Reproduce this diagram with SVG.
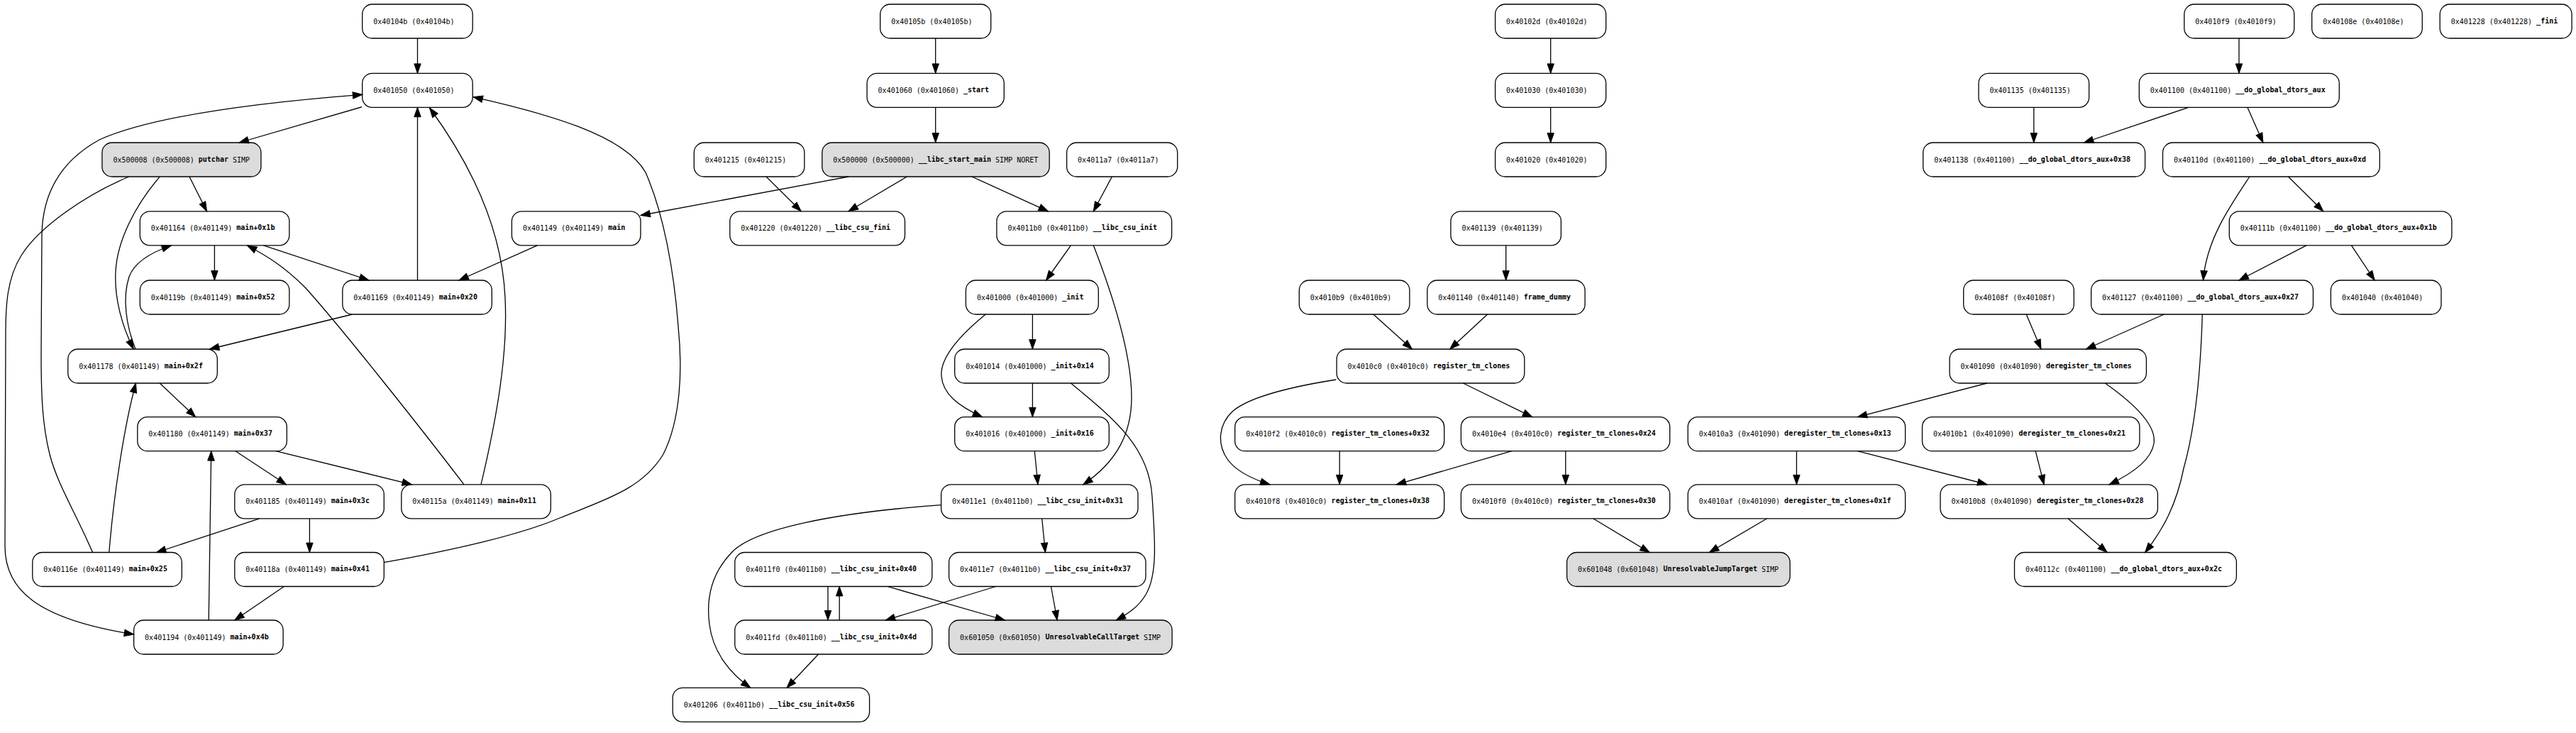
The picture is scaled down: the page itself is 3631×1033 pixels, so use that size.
<svg xmlns="http://www.w3.org/2000/svg" width="3631" height="1033" viewBox="0 0 3631 1033">
<defs>
<style>
.n rect{fill:#fff;stroke:#000;stroke-width:1.3}
.g rect{fill:#dcdcdc}
text{font-family:"DejaVu Sans Mono",monospace;font-size:10px;fill:#000}
.b{font-weight:bold}
#edges path{fill:none;stroke:#000;stroke-width:1.3;marker-end:url(#ah)}
</style>
<marker id="ah" markerUnits="userSpaceOnUse" markerWidth="14" markerHeight="10" refX="13.4" refY="4.7" orient="auto" overflow="visible">
<path d="M0,0 L13.4,4.7 L0,9.4 Z" fill="#000" stroke="#000" stroke-width="1"/>
</marker>
</defs>
<rect width="3631" height="1033" fill="#fff"/>
<g id="nodes">
<g id="n40104b" class="n"><rect x="510.7" y="6" width="155.5" height="48" rx="14"/><text x="526.2" y="33.5">0x40104b (0x40104b)</text></g>
<g id="n401050" class="n"><rect x="510.7" y="103.3" width="155.5" height="48" rx="14"/><text x="526.2" y="130.8">0x401050 (0x401050)</text></g>
<g id="n500008" class="n g"><rect x="143.9" y="201" width="224" height="48" rx="14"/><text x="159.4" y="228.5">0x500008 (0x500008) <tspan class="b" dy="-1">putchar</tspan><tspan dy="1"> SIMP</tspan></text></g>
<g id="n401164" class="n"><rect x="197.3" y="297.8" width="210.5" height="48" rx="14"/><text x="212.8" y="325.3">0x401164 (0x401149) <tspan class="b" dy="-1">main+0x1b</tspan></text></g>
<g id="n401149" class="n"><rect x="721.4" y="297.8" width="181.6" height="48" rx="14"/><text x="736.9" y="325.3">0x401149 (0x401149) <tspan class="b" dy="-1">main</tspan></text></g>
<g id="n40119b" class="n"><rect x="197.3" y="395" width="210.5" height="48" rx="14"/><text x="212.8" y="422.5">0x40119b (0x401149) <tspan class="b" dy="-1">main+0x52</tspan></text></g>
<g id="n401169" class="n"><rect x="482.8" y="395" width="210.5" height="48" rx="14"/><text x="498.3" y="422.5">0x401169 (0x401149) <tspan class="b" dy="-1">main+0x20</tspan></text></g>
<g id="n401178" class="n"><rect x="95.8" y="492" width="210.5" height="48" rx="14"/><text x="111.3" y="519.5">0x401178 (0x401149) <tspan class="b" dy="-1">main+0x2f</tspan></text></g>
<g id="n401180" class="n"><rect x="193.8" y="587.7" width="210.5" height="48" rx="14"/><text x="209.3" y="615.2">0x401180 (0x401149) <tspan class="b" dy="-1">main+0x37</tspan></text></g>
<g id="n401185" class="n"><rect x="330.8" y="682.8" width="210.5" height="48" rx="14"/><text x="346.3" y="710.3">0x401185 (0x401149) <tspan class="b" dy="-1">main+0x3c</tspan></text></g>
<g id="n40115a" class="n"><rect x="565.8" y="682.8" width="210.5" height="48" rx="14"/><text x="581.3" y="710.3">0x40115a (0x401149) <tspan class="b" dy="-1">main+0x11</tspan></text></g>
<g id="n40116e" class="n"><rect x="45.8" y="778.5" width="210.5" height="48" rx="14"/><text x="61.3" y="806">0x40116e (0x401149) <tspan class="b" dy="-1">main+0x25</tspan></text></g>
<g id="n40118a" class="n"><rect x="330.8" y="778.5" width="210.5" height="48" rx="14"/><text x="346.3" y="806">0x40118a (0x401149) <tspan class="b" dy="-1">main+0x41</tspan></text></g>
<g id="n401194" class="n"><rect x="188.6" y="874" width="210.5" height="48" rx="14"/><text x="204.1" y="901.5">0x401194 (0x401149) <tspan class="b" dy="-1">main+0x4b</tspan></text></g>

<g id="n40105b" class="n"><rect x="1240.7" y="6" width="156" height="48" rx="14"/><text x="1256.2" y="33.5">0x40105b (0x40105b)</text></g>
<g id="n401060" class="n"><rect x="1222.1" y="103.3" width="193.2" height="48" rx="14"/><text x="1237.6" y="130.8">0x401060 (0x401060) <tspan class="b" dy="-1">_start</tspan></text></g>
<g id="n401215" class="n"><rect x="978.3" y="201" width="155.6" height="48" rx="14"/><text x="993.8" y="228.5">0x401215 (0x401215)</text></g>
<g id="n500000" class="n g"><rect x="1158.8" y="201" width="320.4" height="48" rx="14"/><text x="1174.3" y="228.5">0x500000 (0x500000) <tspan class="b" dy="-1">__libc_start_main</tspan><tspan dy="1"> SIMP NORET</tspan></text></g>
<g id="n4011a7" class="n"><rect x="1503.6" y="201" width="156.1" height="48" rx="14"/><text x="1519.1" y="228.5">0x4011a7 (0x4011a7)</text></g>
<g id="n401220" class="n"><rect x="1028.8" y="297.8" width="246.7" height="48" rx="14"/><text x="1044.3" y="325.3">0x401220 (0x401220) <tspan class="b" dy="-1">__libc_csu_fini</tspan></text></g>
<g id="n4011b0" class="n"><rect x="1404.9" y="297.8" width="246.7" height="48" rx="14"/><text x="1420.4" y="325.3">0x4011b0 (0x4011b0) <tspan class="b" dy="-1">__libc_csu_init</tspan></text></g>
<g id="n401000" class="n"><rect x="1361.4" y="395" width="186.9" height="48" rx="14"/><text x="1376.9" y="422.5">0x401000 (0x401000) <tspan class="b" dy="-1">_init</tspan></text></g>
<g id="n401014" class="n"><rect x="1345.7" y="492" width="217.6" height="48" rx="14"/><text x="1361.2" y="519.5">0x401014 (0x401000) <tspan class="b" dy="-1">_init+0x14</tspan></text></g>
<g id="n401016" class="n"><rect x="1345.7" y="587.7" width="217.6" height="48" rx="14"/><text x="1361.2" y="615.2">0x401016 (0x401000) <tspan class="b" dy="-1">_init+0x16</tspan></text></g>
<g id="n4011e1" class="n"><rect x="1326.6" y="682.8" width="277.4" height="48" rx="14"/><text x="1342.1" y="710.3">0x4011e1 (0x4011b0) <tspan class="b" dy="-1">__libc_csu_init+0x31</tspan></text></g>
<g id="n4011f0" class="n"><rect x="1035.8" y="778.5" width="278" height="48" rx="14"/><text x="1051.3" y="806">0x4011f0 (0x4011b0) <tspan class="b" dy="-1">__libc_csu_init+0x40</tspan></text></g>
<g id="n4011e7" class="n"><rect x="1337.6" y="778.5" width="277.4" height="48" rx="14"/><text x="1353.1" y="806">0x4011e7 (0x4011b0) <tspan class="b" dy="-1">__libc_csu_init+0x37</tspan></text></g>
<g id="n4011fd" class="n"><rect x="1035.8" y="874" width="278" height="48" rx="14"/><text x="1051.3" y="901.5">0x4011fd (0x4011b0) <tspan class="b" dy="-1">__libc_csu_init+0x4d</tspan></text></g>
<g id="n601050" class="n g"><rect x="1337.6" y="874" width="314.5" height="48" rx="14"/><text x="1353.1" y="901.5">0x601050 (0x601050) <tspan class="b" dy="-1">UnresolvableCallTarget</tspan><tspan dy="1"> SIMP</tspan></text></g>
<g id="n401206" class="n"><rect x="948.2" y="969.3" width="277.4" height="48" rx="14"/><text x="963.7" y="996.8">0x401206 (0x4011b0) <tspan class="b" dy="-1">__libc_csu_init+0x56</tspan></text></g>

<g id="n40102d" class="n"><rect x="2107.6" y="6" width="156.1" height="48" rx="14"/><text x="2123.1" y="33.5">0x40102d (0x40102d)</text></g>
<g id="n401030" class="n"><rect x="2107.6" y="103.3" width="156.1" height="48" rx="14"/><text x="2123.1" y="130.8">0x401030 (0x401030)</text></g>
<g id="n401020" class="n"><rect x="2107.6" y="201" width="156.1" height="48" rx="14"/><text x="2123.1" y="228.5">0x401020 (0x401020)</text></g>
<g id="n401139" class="n"><rect x="2044.9" y="297.8" width="155.5" height="48" rx="14"/><text x="2060.4" y="325.3">0x401139 (0x401139)</text></g>
<g id="n4010b9" class="n"><rect x="1831.3" y="395" width="155.6" height="48" rx="14"/><text x="1846.8" y="422.5">0x4010b9 (0x4010b9)</text></g>
<g id="n401140" class="n"><rect x="2011.8" y="395" width="222.3" height="48" rx="14"/><text x="2027.3" y="422.5">0x401140 (0x401140) <tspan class="b" dy="-1">frame_dummy</tspan></text></g>
<g id="n4010c0" class="n"><rect x="1884.1" y="492" width="264.7" height="48" rx="14"/><text x="1899.6" y="519.5">0x4010c0 (0x4010c0) <tspan class="b" dy="-1">register_tm_clones</tspan></text></g>
<g id="n4010f2" class="n"><rect x="1740.7" y="587.7" width="295" height="48" rx="14"/><text x="1756.2" y="615.2">0x4010f2 (0x4010c0) <tspan class="b" dy="-1">register_tm_clones+0x32</tspan></text></g>
<g id="n4010e4" class="n"><rect x="2059.4" y="587.7" width="294.3" height="48" rx="14"/><text x="2074.9" y="615.2">0x4010e4 (0x4010c0) <tspan class="b" dy="-1">register_tm_clones+0x24</tspan></text></g>
<g id="n4010f8" class="n"><rect x="1740.7" y="682.8" width="295" height="48" rx="14"/><text x="1756.2" y="710.3">0x4010f8 (0x4010c0) <tspan class="b" dy="-1">register_tm_clones+0x38</tspan></text></g>
<g id="n4010f0" class="n"><rect x="2059.4" y="682.8" width="294.3" height="48" rx="14"/><text x="2074.9" y="710.3">0x4010f0 (0x4010c0) <tspan class="b" dy="-1">register_tm_clones+0x30</tspan></text></g>
<g id="n601048" class="n g"><rect x="2208.6" y="778.5" width="314.5" height="48" rx="14"/><text x="2224.1" y="806">0x601048 (0x601048) <tspan class="b" dy="-1">UnresolvableJumpTarget</tspan><tspan dy="1"> SIMP</tspan></text></g>

<g id="n4010f9" class="n"><rect x="3078.8" y="6" width="155" height="48" rx="14"/><text x="3094.3" y="33.5">0x4010f9 (0x4010f9)</text></g>
<g id="n40108e" class="n"><rect x="3258.7" y="6" width="155.6" height="48" rx="14"/><text x="3274.2" y="33.5">0x40108e (0x40108e)</text></g>
<g id="n401228" class="n"><rect x="3439.2" y="6" width="185.9" height="48" rx="14"/><text x="3454.7" y="33.5">0x401228 (0x401228) <tspan class="b" dy="-1">_fini</tspan></text></g>
<g id="n401135" class="n"><rect x="2789" y="103.3" width="155.6" height="48" rx="14"/><text x="2804.5" y="130.8">0x401135 (0x401135)</text></g>
<g id="n401100" class="n"><rect x="3015.3" y="103.3" width="282" height="48" rx="14"/><text x="3030.8" y="130.8">0x401100 (0x401100) <tspan class="b" dy="-1">__do_global_dtors_aux</tspan></text></g>
<g id="n401138" class="n"><rect x="2710.7" y="201" width="312.9" height="48" rx="14"/><text x="2726.2" y="228.5">0x401138 (0x401100) <tspan class="b" dy="-1">__do_global_dtors_aux+0x38</tspan></text></g>
<g id="n40110d" class="n"><rect x="3048.5" y="201" width="305.8" height="48" rx="14"/><text x="3064" y="228.5">0x40110d (0x401100) <tspan class="b" dy="-1">__do_global_dtors_aux+0xd</tspan></text></g>
<g id="n40111b" class="n"><rect x="3142.3" y="297.8" width="313.6" height="48" rx="14"/><text x="3157.8" y="325.3">0x40111b (0x401100) <tspan class="b" dy="-1">__do_global_dtors_aux+0x1b</tspan></text></g>
<g id="n40108f" class="n"><rect x="2767.7" y="395" width="155.6" height="48" rx="14"/><text x="2783.2" y="422.5">0x40108f (0x40108f)</text></g>
<g id="n401127" class="n"><rect x="2947.6" y="395" width="312.9" height="48" rx="14"/><text x="2963.1" y="422.5">0x401127 (0x401100) <tspan class="b" dy="-1">__do_global_dtors_aux+0x27</tspan></text></g>
<g id="n401040" class="n"><rect x="3285.4" y="395" width="155.6" height="48" rx="14"/><text x="3300.9" y="422.5">0x401040 (0x401040)</text></g>
<g id="n401090" class="n"><rect x="2748.1" y="492" width="277.3" height="48" rx="14"/><text x="2763.6" y="519.5">0x401090 (0x401090) <tspan class="b" dy="-1">deregister_tm_clones</tspan></text></g>
<g id="n4010a3" class="n"><rect x="2379.2" y="587.7" width="306.4" height="48" rx="14"/><text x="2394.7" y="615.2">0x4010a3 (0x401090) <tspan class="b" dy="-1">deregister_tm_clones+0x13</tspan></text></g>
<g id="n4010b1" class="n"><rect x="2709.5" y="587.7" width="306.4" height="48" rx="14"/><text x="2725" y="615.2">0x4010b1 (0x401090) <tspan class="b" dy="-1">deregister_tm_clones+0x21</tspan></text></g>
<g id="n4010af" class="n"><rect x="2379.2" y="682.8" width="306.4" height="48" rx="14"/><text x="2394.7" y="710.3">0x4010af (0x401090) <tspan class="b" dy="-1">deregister_tm_clones+0x1f</tspan></text></g>
<g id="n4010b8" class="n"><rect x="2735" y="682.8" width="306.4" height="48" rx="14"/><text x="2750.5" y="710.3">0x4010b8 (0x401090) <tspan class="b" dy="-1">deregister_tm_clones+0x28</tspan></text></g>
<g id="n40112c" class="n"><rect x="2839.5" y="778.5" width="312.9" height="48" rx="14"/><text x="2855" y="806">0x40112c (0x401100) <tspan class="b" dy="-1">__do_global_dtors_aux+0x2c</tspan></text></g>
</g>
<g id="edges">
<path d="M588.5,54 L588.5,103.3"/>
<path d="M510,150.7 L337,201"/>
<path d="M267,249 L291.5,297.8"/>
<path d="M225,249.3 C190,290 165,340 163,383 C161,420 172,460 188.3,492"/>
<path d="M181.7,249 C120,275 55,320 30,360 C10,392 8,430 8,470 L7,770 C7,830 50,872 188.6,894"/>
<path d="M302.4,345.8 L302.4,395"/>
<path d="M371.5,345.8 L520,395"/>
<path d="M588.5,395 L588.5,151.3"/>
<path d="M757.4,345.8 L647,395"/>
<path d="M496.5,443 L295.5,492"/>
<path d="M191,492 C178,460 172,420 182,390 C190,368 215,355 241.5,346"/>
<path d="M654,682.8 C600,612 480,460 430,405 C400,375 375,360 348.5,346"/>
<path d="M678,682.8 C700,590 716,500 712,420 C708,330 670,240 605.5,152"/>
<path d="M541,792.7 C640,775 730,755 789,730 C850,705 905,690 935,640 C960,590 962,520 956,460 C950,380 935,300 910,243 C880,190 770,160 667,136.7"/>
<path d="M225.2,540 L275.7,587.7"/>
<path d="M332,635.7 L403.4,682.8"/>
<path d="M388.8,635.7 L580.4,682.8"/>
<path d="M365.6,730.8 L220.5,778.5"/>
<path d="M436.4,730.8 L436.4,778.5"/>
<path d="M153.8,778.5 C160,700 175,600 191.5,540"/>
<path d="M130.6,778.5 C105,720 80,680 70,640 C60,600 58,560 58,500 L59,330 C60,280 80,230 140,197 C200,170 320,148 510.7,133.3"/>
<path d="M400.4,826.5 L330.8,874"/>
<path d="M294.2,874 L297.7,635.7"/>

<path d="M1318.7,54 L1318.7,103.3"/>
<path d="M1318.7,151.3 L1318.7,201"/>
<path d="M1196,249 L903,303.5"/>
<path d="M1080,249 L1129.2,297.8"/>
<path d="M1278.4,249 L1196,297.8"/>
<path d="M1370,249 L1477.5,297.8"/>
<path d="M1567.4,249 L1541.3,297.8"/>
<path d="M1509.4,345.8 L1474.5,395"/>
<path d="M1541.3,345.8 C1570,420 1595,500 1595,560 C1595,610 1575,650 1526.8,682.8"/>
<path d="M1455.4,443 L1455.4,492"/>
<path d="M1389.2,443 C1350,475 1325,505 1327,530 C1329,555 1350,572 1384.6,587.7"/>
<path d="M1455.4,540 L1455.4,587.7"/>
<path d="M1509.4,540 C1570,590 1620,630 1624,700 C1628,760 1632,810 1615,838 C1605,855 1590,865 1573.2,874"/>
<path d="M1458.3,635.7 L1463,682.8"/>
<path d="M1326.6,711.7 C1180,722 1060,745 1030,780 C1000,812 996,850 1000,880 C1005,920 1030,950 1058,969.3"/>
<path d="M1468.7,730.8 L1473.4,778.5"/>
<path d="M1167,826.5 L1167,874"/>
<path d="M1183.2,874 L1183.2,826.5"/>
<path d="M1251,826.5 L1416.5,874"/>
<path d="M1403.7,826.5 L1248.2,874"/>
<path d="M1481.5,826.5 L1490.2,874"/>
<path d="M1153.6,922 L1109,969.3"/>

<path d="M2185.7,54 L2185.7,103.3"/>
<path d="M2185.7,151.3 L2185.7,201"/>
<path d="M2122.7,345.8 L2122.7,395"/>
<path d="M1935.8,443 L1990.4,492"/>
<path d="M2096.6,443 L2043.7,492"/>
<path d="M1883.3,535 C1820,545 1760,560 1737,580 C1718,598 1715,625 1730,647 C1742,664 1765,675 1790,682.8"/>
<path d="M2062.3,540 L2159.8,587.7"/>
<path d="M1888.2,635.7 L1888.2,682.8"/>
<path d="M2130.8,635.7 L1968.3,682.8"/>
<path d="M2206.8,635.7 L2206.8,682.8"/>
<path d="M2245.7,730.8 L2325.2,778.5"/>
<path d="M2490.6,730.8 L2409.4,778.5"/>

<path d="M2532.4,635.7 L2532.4,682.8"/>
<path d="M2800.9,540 L2618.3,587.7"/>
<path d="M2618.3,635.7 L2800.9,682.8"/>
<path d="M3156,54 L3156,103.3"/>
<path d="M2866.8,151.3 L2866.8,201"/>
<path d="M3084.8,151.3 L2937.5,201"/>
<path d="M3167.9,151.3 L3189.9,201"/>
<path d="M3170.9,249 C3140,295 3110,340 3105.5,395"/>
<path d="M3225.5,249 L3274.8,297.8"/>
<path d="M3251,345.8 L3156,395"/>
<path d="M3314.5,345.8 L3347.2,395"/>
<path d="M2856.2,443 L2877,492"/>
<path d="M3050.3,443 L2940.5,492"/>
<path d="M3104.3,443 C3102,520 3095,600 3078,660 C3068,710 3050,745 3023.6,778.5"/>
<path d="M2967.2,540 C3010,570 3040,600 3036,625 C3032,650 3000,670 2973,682.8"/>
<path d="M2869.2,635.7 L2881.1,682.8"/>
<path d="M2915,730.8 L2970.2,778.5"/>
</g>
</svg>
